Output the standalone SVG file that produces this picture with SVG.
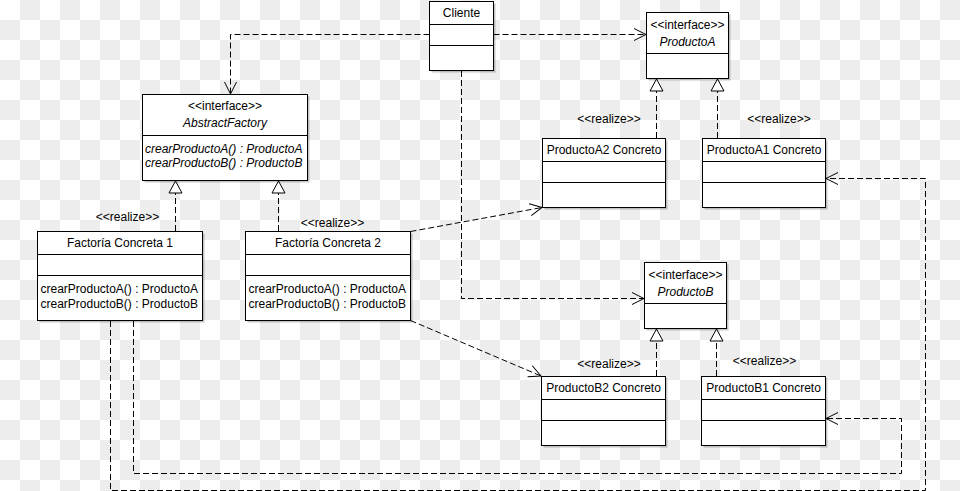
<svg xmlns="http://www.w3.org/2000/svg" width="960" height="491" viewBox="0 0 960 491">
<defs>
<pattern id="bg" width="40" height="40" patternUnits="userSpaceOnUse">
<rect width="40" height="40" fill="#ffffff"/>
<rect x="20" y="0" width="20" height="20" fill="#ededed"/>
<rect x="0" y="20" width="20" height="20" fill="#ededed"/>
</pattern>
<marker id="open" viewBox="0 0 14 14" refX="13" refY="7" markerWidth="14" markerHeight="14" markerUnits="userSpaceOnUse" orient="auto">
<path d="M1,1 L13,7 L1,13" fill="none" stroke="#000" stroke-width="1" stroke-dasharray="none"/>
</marker>
<marker id="tri" viewBox="0 0 14 16" refX="13" refY="8" markerWidth="14" markerHeight="16" markerUnits="userSpaceOnUse" orient="auto">
<path d="M1,1.5 L13,8 L1,14.5 Z" fill="#fff" stroke="#000" stroke-width="1" stroke-dasharray="none"/>
</marker>
</defs>
<style>
.box{fill:#fff;stroke:#000;stroke-width:1}
.sh{fill:#000;opacity:0.22}
.div{stroke:#000;stroke-width:1}
text{font-family:"Liberation Sans",Arial,sans-serif;font-size:12px;fill:#000}
.c{text-anchor:middle}
.i{font-style:italic}
.dash{fill:none;stroke:#000;stroke-width:1;stroke-dasharray:6,3}
.dep{marker-end:url(#open)}
.real{marker-end:url(#tri)}
</style>
<rect width="960" height="491" fill="url(#bg)"/>

<g id="connectors">
<path class="dash dep" d="M429.5,34.5 H230.5 V94"/>
<path class="dash dep" d="M493.5,34.5 H646"/>
<path class="dash dep" d="M461.5,71 V298.5 H644"/>
<path class="dash real" d="M175.5,231 V181"/>
<path class="dash real" d="M278.5,231 V181"/>
<path class="dash dep" d="M410.5,231.5 L542,207.5"/>
<path class="dash dep" d="M410.5,320.5 L541,376"/>
<path class="dash dep" d="M110.5,321 V490.5 H925.5 V178.5 H826"/>
<path class="dash dep" d="M133.5,321 V473.5 H901.5 V418.5 H826"/>
<path class="dash real" d="M656.5,138 V79"/>
<path class="dash real" d="M717.5,138 V79"/>
<path class="dash real" d="M656.5,376 V329"/>
<path class="dash real" d="M716.5,376 V329"/>
<text class="c" x="127.5" y="221">&lt;&lt;realize&gt;&gt;</text>
<text class="c" x="332.5" y="226.5">&lt;&lt;realize&gt;&gt;</text>
<text class="c" x="609" y="123">&lt;&lt;realize&gt;&gt;</text>
<text class="c" x="779" y="123">&lt;&lt;realize&gt;&gt;</text>
<text class="c" x="609" y="368">&lt;&lt;realize&gt;&gt;</text>
<text class="c" x="764.5" y="364.5">&lt;&lt;realize&gt;&gt;</text>
</g>

<g id="cliente">
<rect class="sh" x="431.5" y="3.5" width="64" height="69"/>
<rect class="box" x="429.5" y="1.5" width="64" height="69"/>
<line class="div" x1="429.5" y1="24.5" x2="493.5" y2="24.5"/>
<line class="div" x1="429.5" y1="45.5" x2="493.5" y2="45.5"/>
<text class="c" x="461.5" y="17">Cliente</text>
</g>

<g id="productoA">
<rect class="sh" x="648.5" y="14.5" width="82" height="66"/>
<rect class="box" x="646.5" y="12.5" width="82" height="66"/>
<line class="div" x1="646.5" y1="53.5" x2="728.5" y2="53.5"/>
<text class="c" x="687.5" y="29">&lt;&lt;interface&gt;&gt;</text>
<text class="c i" x="687.5" y="46">ProductoA</text>
</g>

<g id="abstractFactory">
<rect class="sh" x="144.5" y="96.5" width="165" height="86"/>
<rect class="box" x="142.5" y="94.5" width="165" height="86"/>
<line class="div" x1="142.5" y1="135.5" x2="307.5" y2="135.5"/>
<text class="c" x="225" y="110">&lt;&lt;interface&gt;&gt;</text>
<text class="c i" x="225" y="127">AbstractFactory</text>
<text class="i" x="145" y="153">crearProductoA() : ProductoA</text>
<text class="i" x="145" y="166.5">crearProductoB() : ProductoB</text>
</g>

<g id="factoria1">
<rect class="sh" x="39.5" y="233.5" width="165" height="89"/>
<rect class="box" x="37.5" y="231.5" width="165" height="89"/>
<line class="div" x1="37.5" y1="254.5" x2="202.5" y2="254.5"/>
<line class="div" x1="37.5" y1="275.5" x2="202.5" y2="275.5"/>
<text class="c" x="120" y="247">Factoría Concreta 1</text>
<text x="40.5" y="292.5">crearProductoA() : ProductoA</text>
<text x="40.5" y="307.5">crearProductoB() : ProductoB</text>
</g>

<g id="factoria2">
<rect class="sh" x="247.5" y="233.5" width="165" height="89"/>
<rect class="box" x="245.5" y="231.5" width="165" height="89"/>
<line class="div" x1="245.5" y1="254.5" x2="410.5" y2="254.5"/>
<line class="div" x1="245.5" y1="275.5" x2="410.5" y2="275.5"/>
<text class="c" x="328" y="247">Factoría Concreta 2</text>
<text x="248.5" y="292.5">crearProductoA() : ProductoA</text>
<text x="248.5" y="307.5">crearProductoB() : ProductoB</text>
</g>

<g id="productoA2">
<rect class="sh" x="544.5" y="140.5" width="123" height="69"/>
<rect class="box" x="542.5" y="138.5" width="123" height="69"/>
<line class="div" x1="542.5" y1="161.5" x2="665.5" y2="161.5"/>
<line class="div" x1="542.5" y1="182.5" x2="665.5" y2="182.5"/>
<text class="c" x="604" y="154">ProductoA2 Concreto</text>
</g>

<g id="productoA1">
<rect class="sh" x="704.5" y="140.5" width="123" height="69"/>
<rect class="box" x="702.5" y="138.5" width="123" height="69"/>
<line class="div" x1="702.5" y1="161.5" x2="825.5" y2="161.5"/>
<line class="div" x1="702.5" y1="182.5" x2="825.5" y2="182.5"/>
<text class="c" x="764" y="154">ProductoA1 Concreto</text>
</g>

<g id="productoB">
<rect class="sh" x="646.5" y="264.5" width="82" height="66"/>
<rect class="box" x="644.5" y="262.5" width="82" height="66"/>
<line class="div" x1="644.5" y1="303.5" x2="726.5" y2="303.5"/>
<text class="c" x="685.5" y="279">&lt;&lt;interface&gt;&gt;</text>
<text class="c i" x="685.5" y="296">ProductoB</text>
</g>

<g id="productoB2">
<rect class="sh" x="543.5" y="378.5" width="124" height="69"/>
<rect class="box" x="541.5" y="376.5" width="124" height="69"/>
<line class="div" x1="541.5" y1="399.5" x2="665.5" y2="399.5"/>
<line class="div" x1="541.5" y1="420.5" x2="665.5" y2="420.5"/>
<text class="c" x="603.5" y="392">ProductoB2 Concreto</text>
</g>

<g id="productoB1">
<rect class="sh" x="703.5" y="378.5" width="124" height="69"/>
<rect class="box" x="701.5" y="376.5" width="124" height="69"/>
<line class="div" x1="701.5" y1="399.5" x2="825.5" y2="399.5"/>
<line class="div" x1="701.5" y1="420.5" x2="825.5" y2="420.5"/>
<text class="c" x="763.5" y="392">ProductoB1 Concreto</text>
</g>
</svg>
